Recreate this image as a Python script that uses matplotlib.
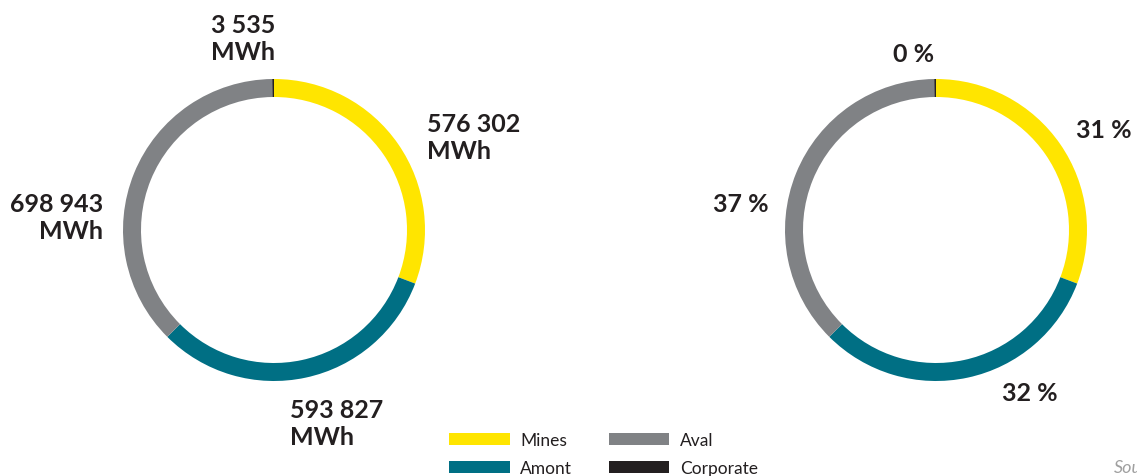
import matplotlib.pyplot as plt
from matplotlib.patches import Patch

# energy consumption by segment
segments = ['Mines', 'Amont', 'Aval', 'Corporate']
mwh = [576302, 593827, 698943, 3535]
colors = ['#FFE500', '#006F84', '#808285', '#231F20']

W, H = 1137, 477
plt.rcParams['font.family'] = ['Lato', 'DejaVu Sans']
txt_color = '#231F20'

fig = plt.figure(figsize=(W / 100, H / 100), dpi=100)
ax = fig.add_axes([0, 0, 1, 1])
ax.set_xlim(0, W)
ax.set_ylim(0, H)
ax.set_aspect('equal')
ax.axis('off')


def Y(y):
    return H - y


radius = 151
ring = 18
for cx in (274, 936):
    ax.pie(mwh, colors=colors, startangle=90, counterclock=False,
           center=(cx, Y(231)), radius=radius,
           wedgeprops=dict(width=ring, linewidth=0))
ax.set_xlim(0, W)
ax.set_ylim(0, H)

total = sum(mwh)
pct = [round(v / total * 100) for v in mwh]


def fmt(v):
    return f'{v:,}'.replace(',', ' ')


lab_kw = dict(fontsize=18, fontweight='bold', color=txt_color,
              va='center', linespacing=1.22)

# left donut: absolute values
ax.text(427, Y(138), f'{fmt(mwh[0])}\nMWh', ha='left', **lab_kw)
ax.text(290, Y(424), f'{fmt(mwh[1])}\nMWh', ha='left', **lab_kw)
ax.text(103, Y(218), f'{fmt(mwh[2])}\nMWh', ha='right', multialignment='right', **lab_kw)
ax.text(243, Y(39), f'{fmt(mwh[3])}\nMWh', ha='center', **lab_kw)

# right donut: shares
ax.text(1076, Y(131), f'{pct[0]} %', ha='left', **lab_kw)
ax.text(1030, Y(394), f'{pct[1]} %', ha='center', **lab_kw)
ax.text(769, Y(204), f'{pct[2]} %', ha='right', **lab_kw)
ax.text(914, Y(55), f'{pct[3]} %', ha='center', **lab_kw)

handles = [Patch(facecolor=c, edgecolor='none') for c in colors]
fig.legend(handles, segments, loc='upper left',
           bbox_to_anchor=(449 / W, 1 - 433 / H), ncol=2, frameon=False,
           fontsize=12.5, labelcolor=txt_color, handlelength=3.5,
           handleheight=0.75, handletextpad=0.6, columnspacing=2.1,
           labelspacing=0.7, borderpad=0, borderaxespad=0)

ax.text(1114, Y(468), 'Source', fontsize=13, style='italic', color='#a0a0a0',
        va='center', ha='left')

fig.savefig('out.png', dpi=100)
